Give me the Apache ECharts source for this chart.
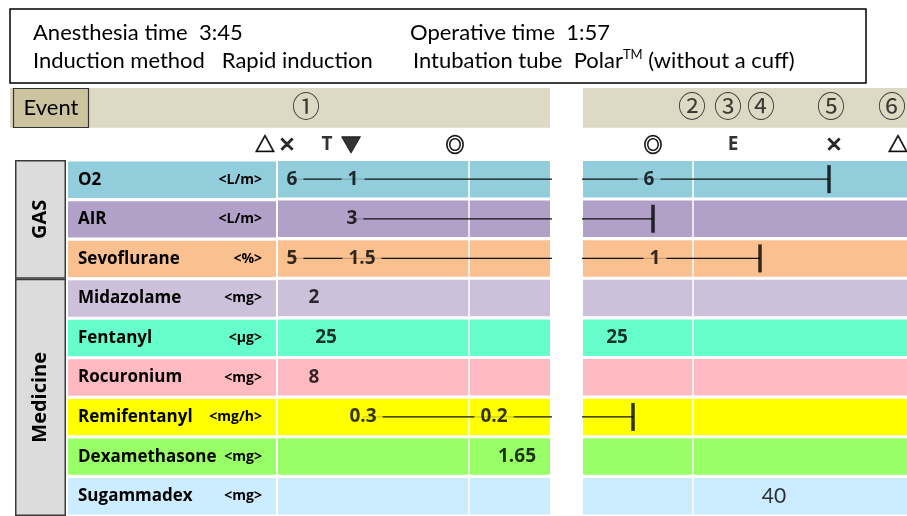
<!DOCTYPE html>
<html>
<head>
<meta charset="utf-8">
<title>Anesthesia record</title>
<script src="https://cdn.jsdelivr.net/npm/echarts@6/dist/echarts.min.js"></script>
<style>
  html, body { margin: 0; padding: 0; background: #fff; }
  #chart { width: 907px; height: 516px; }
</style>
</head>
<body>
<div id="chart"></div>
<script>
// rows of the record
const rowNames = ['O2', 'AIR', 'Sevoflurane', 'Midazolame', 'Fentanyl', 'Rocuronium', 'Remifentanyl', 'Dexamethasone', 'Sugammadex'];
const rowUnits = ['<L/m>', '<L/m>', '<%>', '<mg>', '<\u00b5g>', '<mg>', '<mg/h>', '<mg>', '<mg>'];
const groupNames = ['GAS', 'Medicine'];
const groupSizes = [3, 6];

// doses per row: [time, value written]
const o2Doses = [[3.5, '6'], [18.75, '1'], [166.5, '6']];
const airDoses = [[18.5, '3']];
const sevoDoses = [[3.5, '5'], [21, '1.5'], [168, '1']];
const midazolameDoses = [[9, '2']];
const fentanylDoses = [[12, '25'], [158.5, '25']];
const rocuroniumDoses = [[9, '8']];
const remifentanylDoses = [[21.25, '0.3'], [54, '0.2']];
const dexamethasoneDoses = [[59.75, '1.65']];
const sugammadexDoses = [[197.75, '40']];
// time the continuous ones were stopped (null = bolus only)
const stopTimes = [211.5, 167.5, 194.25, null, null, null, 162.5, null, null];

// events and marks above the rows
const eventMarks = ['\u2460', '\u2461', '\u2462', '\u2463', '\u2464', '\u2465'];
const eventTimes = [7, 177.25, 186.25, 194.5, 212, 227.25];
const signMarks = ['\u25b3', '\u00d7', 'T', '\u25bc', '\u25ce', '\u25ce', 'E', '\u00d7', '\u25b3'];
const signTimes = [-3.25, 2.25, 12.25, 18.25, 44.25, 167.5, 187.5, 212.75, 228.75];
const dividerTimes = [47.75, 177.5];

const allDoses = [o2Doses, airDoses, sevoDoses, midazolameDoses, fentanylDoses, rocuroniumDoses,
  remifentanylDoses, dexamethasoneDoses, sugammadexDoses];

const rowColors = ['#92CDDC', '#B1A0C7', '#FAC08F', '#CCC0DA', '#66FFCC', '#FFB9C0', '#FFFF00', '#99FF66', '#CCECFF'];
const FONT = 'Lato, "Noto Sans CJK JP", sans-serif';
const BOLD = '"Open Sans", "DejaVu Sans", sans-serif';
const SIGN = '"Noto Sans CJK JP", "DejaVu Sans", sans-serif';

// the two halves of the broken time axis
const sides = [
  { min: -67, max: 68, dataStart: 0 },
  { min: 150, max: 231, dataStart: 150 }
];

const chart = echarts.init(document.getElementById('chart'));

function inSide(s, t) {
  return t >= s.min && t <= s.max;
}

// glyph style for the marks above the rows
function signLabel(m) {
  if (m === 'T' || m === 'E') return { fontFamily: BOLD, fontSize: 19 };
  if (m === '\u00d7') return { fontSize: 18, textBorderColor: '#000', textBorderWidth: 1 };
  if (m === '\u25ce') return { fontSize: 19, textBorderColor: '#000', textBorderWidth: 0.8 };
  return { fontSize: 20, textBorderColor: '#000', textBorderWidth: 0.9 };
}

const series = [];
sides.forEach((s, g) => {
  // event band
  series.push({
    type: 'custom', xAxisIndex: g, yAxisIndex: g, z: 1, silent: true,
    data: [[s.min, -1.8]],
    renderItem: (params, api) => {
      const p0 = api.coord([s.min, -1.8]);
      const p1 = api.coord([s.max, -0.8]);
      return { type: 'rect', shape: { x: p0[0], y: p0[1], width: p1[0] - p0[0], height: p1[1] - p0[1] }, style: { fill: '#DDD9C4' } };
    }
  });
  // row bands
  series.push({
    type: 'custom', xAxisIndex: g, yAxisIndex: g, z: 1, silent: true,
    data: rowNames.map((n, i) => [s.dataStart, i]),
    renderItem: (params, api) => {
      const r = api.value(1);
      const p0 = api.coord([s.dataStart, r + 0.04]);
      const p1 = api.coord([s.max, r + 0.96]);
      return { type: 'rect', shape: { x: p0[0], y: p0[1], width: p1[0] - p0[0], height: p1[1] - p0[1] }, style: { fill: rowColors[r] } };
    }
  });
  // white dividers
  series.push({
    type: 'custom', xAxisIndex: g, yAxisIndex: g, z: 2, silent: true,
    data: dividerTimes.filter(t => inSide(s, t)).map(t => [t, 0]),
    renderItem: (params, api) => {
      const p0 = api.coord([api.value(0), 0]);
      const p1 = api.coord([api.value(0), 9]);
      return { type: 'line', shape: { x1: p0[0], y1: p0[1], x2: p1[0], y2: p1[1] }, style: { stroke: '#fff', lineWidth: 1.5 } };
    }
  });
  // infusion lines
  allDoses.forEach((d, r) => {
    if (stopTimes[r] === null) return;
    series.push({
      type: 'line', xAxisIndex: g, yAxisIndex: g, z: 3, silent: true, clip: true,
      symbol: 'none', animation: false,
      lineStyle: { color: '#111', width: 1.3 },
      data: [[d[0][0], r + 0.5], [stopTimes[r], r + 0.5]]
    });
  });
  // stop ticks
  series.push({
    type: 'scatter', xAxisIndex: g, yAxisIndex: g, z: 4, silent: true,
    symbol: 'rect', symbolSize: [3.5, 28],
    itemStyle: { color: '#000' },
    data: stopTimes.map((t, r) => [t, r + 0.5]).filter(p => p[0] !== null && inSide(s, p[0]))
  });
  // written values
  const vals = [];
  allDoses.forEach((d, r) => {
    d.forEach(p => {
      if (!inSide(s, p[0])) return;
      vals.push({
        value: [p[0], r + 0.5], name: p[1],
        label: r === 8
          ? { backgroundColor: rowColors[r], fontFamily: FONT, fontWeight: 'normal', fontSize: 21 }
          : { backgroundColor: rowColors[r], fontFamily: BOLD, fontWeight: 'bold', fontSize: 19 }
      });
    });
  });
  series.push({
    type: 'scatter', xAxisIndex: g, yAxisIndex: g, z: 5, silent: true,
    symbolSize: 1, itemStyle: { color: 'rgba(0,0,0,0)' },
    label: { show: true, position: 'inside', formatter: '{b}', color: '#000', padding: [1, 6] },
    data: vals
  });
  // event numbers
  series.push({
    type: 'scatter', xAxisIndex: g, yAxisIndex: g, z: 5, silent: true,
    symbolSize: 1, itemStyle: { color: 'rgba(0,0,0,0)' },
    label: { show: true, position: 'inside', formatter: '{b}', color: '#111', fontFamily: '"Noto Sans CJK JP"', fontSize: 28 },
    data: eventTimes.map((t, i) => ({ value: [t, -1.325], name: eventMarks[i] })).filter(p => inSide(s, p.value[0]))
  });
  // signs
  series.push({
    type: 'scatter', xAxisIndex: g, yAxisIndex: g, z: 5, silent: true,
    symbolSize: 1, itemStyle: { color: 'rgba(0,0,0,0)' },
    label: { show: true, position: 'inside', formatter: '{b}', color: '#000', fontFamily: SIGN, fontWeight: 'bold', fontSize: 18 },
    data: signTimes.map((t, i) => ({
      value: [t, -0.375], name: signMarks[i], label: signLabel(signMarks[i])
    })).filter(p => inSide(s, p.value[0]))
  });
});

// label column
series.push({
  type: 'bar', xAxisIndex: 2, yAxisIndex: 2, silent: true, barCategoryGap: '8%',
  data: rowNames.map((n, i) => ({ value: 1, itemStyle: { color: rowColors[i] } })),
  label: { show: true, position: 'insideLeft', distance: 10, formatter: '{b}', color: '#000', fontFamily: BOLD, fontWeight: 'bold', fontSize: 17 }
});
series.push({
  type: 'bar', xAxisIndex: 2, yAxisIndex: 2, silent: true, barCategoryGap: '8%', barGap: '-100%',
  data: rowUnits.map(u => ({ value: 1, name: u })),
  itemStyle: { color: 'rgba(0,0,0,0)' },
  label: { show: true, position: 'insideRight', distance: 14, formatter: p => rowUnits[p.dataIndex], color: '#000', fontFamily: BOLD, fontWeight: 'bold', fontSize: 14 }
});
// group column
groupNames.forEach((gname, i) => {
  series.push({
    type: 'bar', xAxisIndex: 3, yAxisIndex: 3, silent: true, stack: 'grp', barWidth: '100%',
    data: [groupSizes[i]],
    itemStyle: { color: '#DCDCDC', borderColor: '#3a3a3a', borderWidth: 1.5 },
    label: { show: true, position: 'inside', rotate: 90, formatter: gname, color: '#000', fontFamily: BOLD, fontWeight: 'bold', fontSize: 20 }
  });
});

const hidden = { show: false };
const headFont = '22px Lato';
chart.setOption({
  animation: false,
  grid: [
    { left: 10, top: 88, width: 540, height: 432 },
    { left: 583, top: 88, width: 324, height: 432 },
    { left: 68, top: 160, width: 208, height: 360 },
    { left: 15, top: 160, width: 51, height: 360 }
  ],
  xAxis: [
    Object.assign({ type: 'value', gridIndex: 0, min: sides[0].min, max: sides[0].max }, hidden),
    Object.assign({ type: 'value', gridIndex: 1, min: sides[1].min, max: sides[1].max }, hidden),
    Object.assign({ type: 'value', gridIndex: 2, min: 0, max: 1 }, hidden),
    Object.assign({ type: 'category', gridIndex: 3, data: ['group'] }, hidden)
  ],
  yAxis: [
    Object.assign({ type: 'value', gridIndex: 0, min: -1.8, max: 9, inverse: true }, hidden),
    Object.assign({ type: 'value', gridIndex: 1, min: -1.8, max: 9, inverse: true }, hidden),
    Object.assign({ type: 'category', gridIndex: 2, data: rowNames, inverse: true }, hidden),
    Object.assign({ type: 'value', gridIndex: 3, min: 0, max: 9, inverse: true }, hidden)
  ],
  graphic: [
    { type: 'rect', shape: { x: 10, y: 9, width: 856, height: 74 }, style: { fill: '#fff', stroke: '#000', lineWidth: 1.5 } },
    { type: 'text', x: 33, y: 33, style: { text: 'Anesthesia time  3:45', font: headFont, fill: '#000', textVerticalAlign: 'middle' } },
    { type: 'text', x: 410, y: 33, style: { text: 'Operative time  1:57', font: headFont, fill: '#000', textVerticalAlign: 'middle' } },
    { type: 'text', x: 33, y: 61, style: { text: 'Induction method   Rapid induction', font: headFont, fill: '#000', textVerticalAlign: 'middle' } },
    {
      type: 'text', x: 413, y: 61,
      style: {
        text: 'Intubation tube  Polar{sup|TM} (without a cuff)', font: headFont, fill: '#000', textVerticalAlign: 'middle',
        rich: { sup: { fontSize: 13, fontFamily: 'Lato', verticalAlign: 'top', lineHeight: 26 } }
      }
    },
    { type: 'rect', z: 10, shape: { x: 13.5, y: 88.5, width: 75, height: 39 }, style: { fill: '#CCC49E', stroke: '#333', lineWidth: 1.2 } },
    { type: 'text', z: 11, x: 51, y: 108, style: { text: 'Event', font: headFont, fill: '#000', textAlign: 'center', textVerticalAlign: 'middle' } }
  ],
  series: series
});
</script>
</body>
</html>
